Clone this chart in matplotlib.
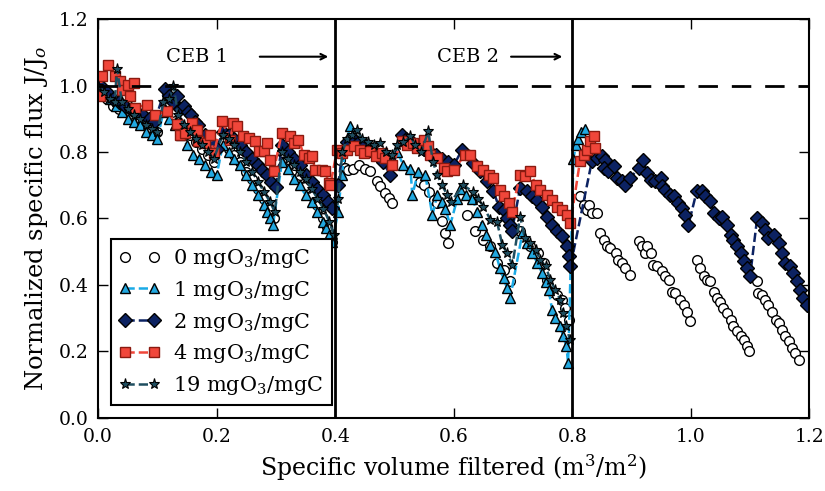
import numpy as np
import matplotlib
matplotlib.use("Agg")
import matplotlib.pyplot as plt

plt.rcParams['font.family'] = 'DejaVu Serif'
plt.rcParams['mathtext.fontset'] = 'dejavuserif'

# 0 mgO3/mgC (open circles)
x0 = [0.005, 0.015, 0.025, 0.035, 0.045, 0.055, 0.07, 0.085, 0.1,
      0.115, 0.125, 0.135, 0.145, 0.155, 0.165, 0.175, 0.185, 0.195,
      0.21, 0.22, 0.23, 0.24, 0.25, 0.26, 0.27, 0.28, 0.29, 0.296,
      0.31, 0.32, 0.33, 0.34, 0.35, 0.36, 0.37, 0.38, 0.386, 0.395,
      0.408, 0.417, 0.422, 0.43, 0.44, 0.45, 0.459, 0.47, 0.476, 0.484, 0.49, 0.496,
      0.543, 0.55, 0.558, 0.566, 0.572, 0.58, 0.586, 0.591,
      0.622, 0.636, 0.65, 0.662, 0.673, 0.684, 0.695,
      0.712, 0.729, 0.743, 0.752, 0.757, 0.766, 0.774, 0.783, 0.788, 0.794,
      0.813, 0.819, 0.825, 0.828, 0.833, 0.842,
      0.847, 0.853, 0.859, 0.864, 0.873, 0.878, 0.884, 0.889, 0.898,
      0.912, 0.918, 0.923, 0.926, 0.932, 0.937, 0.943, 0.951, 0.957, 0.963,
      0.968, 0.974, 0.982, 0.988, 0.994, 0.999,
      1.010, 1.016, 1.022, 1.027, 1.033, 1.039, 1.044, 1.050, 1.055, 1.061,
      1.067, 1.072, 1.078, 1.084, 1.089, 1.095, 1.098,
      1.112, 1.114, 1.120, 1.126, 1.131, 1.137, 1.143, 1.148, 1.154, 1.159,
      1.165, 1.171, 1.176, 1.182]
y0 = [0.99, 0.96, 0.94, 0.93, 0.92, 0.91, 0.89, 0.87, 0.86,
      0.95, 0.92, 0.89, 0.87, 0.85, 0.83, 0.81, 0.79, 0.77,
      0.83, 0.81, 0.79, 0.77, 0.74, 0.72, 0.69, 0.66, 0.63, 0.60,
      0.80, 0.78, 0.76, 0.73, 0.70, 0.67, 0.64, 0.60, 0.575, 0.53,
      0.777, 0.752, 0.747, 0.75, 0.76, 0.75, 0.742, 0.712, 0.697, 0.677, 0.662, 0.647,
      0.711, 0.70, 0.68, 0.657, 0.647, 0.591, 0.556, 0.526,
      0.611, 0.561, 0.536, 0.516, 0.466, 0.446, 0.411,
      0.561, 0.516, 0.496, 0.466, 0.416, 0.380, 0.370, 0.355, 0.330, 0.295,
      0.667, 0.642, 0.627, 0.642, 0.617, 0.617,
      0.556, 0.536, 0.516, 0.511, 0.496, 0.476, 0.466, 0.451, 0.431,
      0.531, 0.516, 0.496, 0.516, 0.496, 0.461, 0.456, 0.441, 0.426, 0.416,
      0.380, 0.375, 0.355, 0.340, 0.320, 0.290,
      0.476, 0.451, 0.426, 0.416, 0.411, 0.380, 0.361, 0.350, 0.330, 0.315,
      0.295, 0.275, 0.260, 0.245, 0.235, 0.215, 0.200,
      0.411, 0.375, 0.370, 0.355, 0.340, 0.320, 0.295, 0.285, 0.265, 0.245,
      0.230, 0.210, 0.195, 0.175]

# 1 mgO3/mgC (triangles)
x1 = [0.0, 0.01, 0.02, 0.03, 0.04, 0.05, 0.06, 0.07, 0.08, 0.09, 0.10,
      0.11, 0.12, 0.13, 0.14, 0.15, 0.16, 0.17, 0.18, 0.19, 0.2,
      0.21, 0.22, 0.23, 0.24, 0.25, 0.26, 0.27, 0.28, 0.285, 0.29, 0.295,
      0.31, 0.32, 0.33, 0.34, 0.35, 0.36, 0.37, 0.38, 0.385, 0.39, 0.395,
      0.405, 0.411, 0.418, 0.425, 0.435, 0.445, 0.455, 0.465, 0.475, 0.485, 0.495,
      0.505, 0.515, 0.527, 0.53, 0.54, 0.552, 0.564, 0.572, 0.58, 0.586, 0.594,
      0.606, 0.611, 0.62, 0.631, 0.64, 0.648, 0.655, 0.662, 0.67, 0.678, 0.684, 0.69, 0.695,
      0.716, 0.724, 0.732, 0.741, 0.749, 0.755, 0.76, 0.766, 0.771, 0.779, 0.785, 0.79, 0.793,
      0.802, 0.806, 0.81, 0.815, 0.822]
y1 = [1.00, 0.98, 0.96, 0.94, 0.92, 0.90, 0.89, 0.88, 0.86, 0.85, 0.84,
      0.92, 0.90, 0.88, 0.85, 0.82, 0.79, 0.78, 0.76, 0.74, 0.73,
      0.82, 0.80, 0.78, 0.76, 0.73, 0.70, 0.67, 0.64, 0.62, 0.60, 0.58,
      0.77, 0.75, 0.72, 0.70, 0.67, 0.65, 0.62, 0.59, 0.57, 0.55, 0.53,
      0.62, 0.73, 0.82, 0.877, 0.84, 0.83, 0.82, 0.80, 0.79, 0.78, 0.77,
      0.80, 0.76, 0.75, 0.67, 0.74, 0.73, 0.61, 0.67, 0.65, 0.63, 0.58,
      0.66, 0.69, 0.67, 0.66, 0.62, 0.58, 0.55, 0.52, 0.50, 0.45, 0.42, 0.39, 0.36,
      0.557, 0.527, 0.497, 0.467, 0.436, 0.41, 0.386, 0.325, 0.30, 0.276, 0.245, 0.215, 0.165,
      0.78, 0.82, 0.84, 0.86, 0.87]

# 2 mgO3/mgC (diamonds)
x2 = [0.005, 0.015, 0.025, 0.035, 0.045, 0.055, 0.065, 0.075, 0.085, 0.095,
      0.113, 0.12, 0.127, 0.133, 0.138, 0.145, 0.152, 0.157, 0.163, 0.169, 0.18, 0.19, 0.2,
      0.21, 0.22, 0.23, 0.24, 0.25, 0.26, 0.27, 0.277, 0.285, 0.292, 0.3,
      0.31, 0.32, 0.33, 0.34, 0.35, 0.36, 0.37, 0.38, 0.388, 0.395,
      0.405, 0.412, 0.42, 0.43, 0.44, 0.45, 0.46, 0.47, 0.48, 0.493,
      0.513, 0.52, 0.53, 0.54, 0.55, 0.56, 0.57, 0.58, 0.59, 0.6,
      0.614, 0.633, 0.645, 0.656, 0.667, 0.676, 0.684, 0.690, 0.695, 0.698,
      0.712, 0.724, 0.732, 0.740, 0.749, 0.757, 0.766, 0.774, 0.783, 0.791, 0.794, 0.797,
      0.833, 0.842, 0.850, 0.856, 0.853, 0.861, 0.870, 0.875, 0.884, 0.889, 0.898,
      0.912, 0.920, 0.926, 0.932, 0.940, 0.949, 0.951, 0.957, 0.965, 0.971, 0.979, 0.985, 0.991, 0.996,
      1.010, 1.019, 1.024, 1.033, 1.039, 1.047, 1.053, 1.061, 1.067, 1.072, 1.078, 1.084, 1.089, 1.095, 1.100,
      1.112, 1.120, 1.126, 1.131, 1.140, 1.148, 1.154, 1.159, 1.168, 1.173, 1.179, 1.185, 1.190, 1.196]
y2 = [1.0, 0.98, 0.96, 0.95, 0.94, 0.93, 0.92, 0.91, 0.90, 0.89,
      0.99, 0.97, 0.95, 0.97, 0.93, 0.94, 0.92, 0.91, 0.89, 0.88, 0.85, 0.83, 0.81,
      0.86, 0.85, 0.84, 0.82, 0.80, 0.78, 0.76, 0.747, 0.73, 0.71, 0.695,
      0.82, 0.80, 0.78, 0.76, 0.73, 0.71, 0.69, 0.67, 0.65, 0.632,
      0.70, 0.80, 0.83, 0.84, 0.83, 0.82, 0.81, 0.79, 0.77, 0.732,
      0.852, 0.84, 0.83, 0.82, 0.81, 0.80, 0.79, 0.78, 0.77, 0.76,
      0.807, 0.767, 0.742, 0.712, 0.682, 0.636, 0.627, 0.601, 0.581, 0.561,
      0.692, 0.682, 0.667, 0.657, 0.636, 0.606, 0.581, 0.561, 0.546, 0.516, 0.486, 0.456,
      0.772, 0.782, 0.787, 0.777, 0.752, 0.742, 0.757, 0.722, 0.712, 0.702, 0.722,
      0.752, 0.777, 0.737, 0.717, 0.712, 0.722, 0.697, 0.687, 0.672, 0.667, 0.647, 0.632, 0.611, 0.581,
      0.682, 0.682, 0.667, 0.652, 0.617, 0.601, 0.606, 0.581, 0.551, 0.536, 0.516, 0.496, 0.471, 0.451, 0.426,
      0.601, 0.586, 0.566, 0.541, 0.551, 0.526, 0.496, 0.466, 0.456, 0.436, 0.411, 0.386, 0.361, 0.340]

# 4 mgO3/mgC (squares)
x4 = [0.003, 0.006, 0.017, 0.029, 0.037, 0.040, 0.051, 0.054, 0.060, 0.062, 0.082, 0.096,
      0.116, 0.133, 0.138, 0.147, 0.158, 0.167, 0.169, 0.181, 0.189, 0.195,
      0.209, 0.223, 0.228, 0.234, 0.245, 0.254, 0.265, 0.271, 0.279, 0.285, 0.290, 0.296,
      0.310, 0.324, 0.330, 0.338, 0.347, 0.355, 0.361, 0.366, 0.378, 0.383, 0.389, 0.392,
      0.403, 0.411, 0.420, 0.431, 0.442, 0.448, 0.459, 0.468, 0.479, 0.484, 0.496,
      0.513, 0.521, 0.532, 0.538, 0.549, 0.557, 0.560, 0.572, 0.583, 0.588, 0.600,
      0.619, 0.628, 0.639, 0.650, 0.659, 0.667, 0.678, 0.684, 0.693, 0.698,
      0.712, 0.721, 0.729, 0.738, 0.746, 0.757, 0.766, 0.774, 0.783, 0.791, 0.797,
      0.813, 0.819, 0.825, 0.830, 0.836, 0.839]
y4 = [0.968, 1.028, 1.063, 1.028, 1.013, 0.988, 1.003, 0.968, 1.008, 0.933, 0.943, 0.913,
      0.923, 0.883, 0.852, 0.858, 0.888, 0.867, 0.832, 0.827, 0.852, 0.797,
      0.893, 0.837, 0.888, 0.878, 0.847, 0.842, 0.832, 0.802, 0.802, 0.827, 0.777, 0.742,
      0.858, 0.847, 0.827, 0.837, 0.792, 0.782, 0.787, 0.747, 0.747, 0.742, 0.707, 0.702,
      0.807, 0.797, 0.807, 0.817, 0.807, 0.797, 0.802, 0.787, 0.797, 0.782, 0.762,
      0.832, 0.822, 0.827, 0.812, 0.837, 0.817, 0.792, 0.782, 0.752, 0.742, 0.747,
      0.792, 0.792, 0.757, 0.747, 0.732, 0.722, 0.687, 0.667, 0.647, 0.621,
      0.732, 0.727, 0.742, 0.702, 0.687, 0.672, 0.657, 0.636, 0.627, 0.611, 0.586,
      0.772, 0.792, 0.807, 0.832, 0.847, 0.812]

# 19 mgO3/mgC (stars)
x19 = [0.0, 0.01, 0.02, 0.028, 0.032, 0.04, 0.05, 0.06, 0.07, 0.08, 0.09, 0.1,
       0.11, 0.12, 0.127, 0.135, 0.145, 0.155, 0.165, 0.175, 0.185, 0.195,
       0.21, 0.22, 0.23, 0.24, 0.25, 0.26, 0.27, 0.28, 0.29, 0.298,
       0.31, 0.32, 0.33, 0.34, 0.35, 0.36, 0.37, 0.38, 0.39, 0.398,
       0.405, 0.412, 0.42, 0.428, 0.437, 0.445, 0.455, 0.465, 0.476, 0.485, 0.495,
       0.505, 0.515, 0.527, 0.535, 0.545, 0.557, 0.565, 0.572, 0.58, 0.589, 0.595,
       0.616, 0.633, 0.641, 0.65, 0.662, 0.673, 0.682, 0.69, 0.699,
       0.712, 0.72, 0.729, 0.738, 0.746, 0.755, 0.763, 0.771, 0.78, 0.785, 0.79, 0.796]
y19 = [1.0, 0.98, 0.96, 0.95, 1.05, 0.95, 0.93, 0.91, 0.90, 0.88, 0.87, 0.86,
       0.95, 0.96, 1.0, 0.91, 0.88, 0.86, 0.84, 0.82, 0.80, 0.78,
       0.85, 0.84, 0.82, 0.80, 0.77, 0.74, 0.71, 0.68, 0.65, 0.62,
       0.80, 0.78, 0.76, 0.74, 0.72, 0.69, 0.66, 0.63, 0.59, 0.55,
       0.66, 0.80, 0.84, 0.85, 0.867, 0.84, 0.83, 0.82, 0.828, 0.80, 0.79,
       0.82, 0.83, 0.847, 0.82, 0.80, 0.862, 0.77, 0.732, 0.70, 0.672, 0.65,
       0.70, 0.68, 0.66, 0.636, 0.596, 0.59, 0.52, 0.497, 0.46,
       0.606, 0.54, 0.526, 0.506, 0.476, 0.456, 0.416, 0.386, 0.356, 0.316, 0.275, 0.235]

labels = ['0 mgO$_3$/mgC', '1 mgO$_3$/mgC', '2 mgO$_3$/mgC', '4 mgO$_3$/mgC', '19 mgO$_3$/mgC']

fig = plt.figure(figsize=(8.25, 4.91), dpi=100)
ax = fig.add_axes([0.119, 0.149, 0.862, 0.812])

ax.plot(x0, y0, 'o', ls='none', mfc='white', mec='black', ms=7, mew=1, label=labels[0])
ax.plot(x1, y1, '^', ls='--', color='#1aaae6', mfc='#22a8e0', mec='black', ms=7, mew=1, lw=1.8, label=labels[1])
ax.plot(x2, y2, 'D', ls='--', color='#0c2262', mfc='#0c2262', mec='black', ms=7, mew=1, lw=1.8, label=labels[2])
ax.plot(x4, y4, 's', ls='--', color='#f0463a', mfc='#f0463a', mec='#8a1a10', ms=7, mew=1, lw=1.8, label=labels[3])
ax.plot(x19, y19, '*', ls='--', color='#1f4e60', mfc='#1f4e60', mec='black', ms=8, mew=0.8, lw=1.8, label=labels[4])

ax.axhline(1.0, color='black', ls='--', lw=2, dashes=(7, 5))
ax.axvline(0.4, color='black', lw=2)
ax.axvline(0.8, color='black', lw=2)

ax.text(0.167, 1.087, 'CEB 1', ha='center', va='center', fontsize=14)
ax.annotate('', xy=(0.393, 1.087), xytext=(0.268, 1.087),
            arrowprops=dict(arrowstyle='->', lw=1.5, color='black'))
ax.text(0.624, 1.087, 'CEB 2', ha='center', va='center', fontsize=14)
ax.annotate('', xy=(0.788, 1.087), xytext=(0.692, 1.087),
            arrowprops=dict(arrowstyle='->', lw=1.5, color='black'))

ax.set_xlim(0, 1.2)
ax.set_ylim(0, 1.2)
ax.set_xticks(np.arange(0, 1.21, 0.2))
ax.set_yticks(np.arange(0, 1.21, 0.2))
ax.tick_params(direction='in', top=True, right=True, length=7, width=1, labelsize=13.5, pad=7)
for s in ax.spines.values():
    s.set_linewidth(1.5)

ax.set_xlabel('Specific volume filtered (m$^3$/m$^2$)', fontsize=17, labelpad=5)
ax.set_ylabel('Normalized specific flux J/J$_o$', fontsize=17.5, labelpad=6)

leg = ax.legend(loc='lower left', numpoints=2, fontsize=15, fancybox=False, framealpha=1,
                edgecolor='black', borderaxespad=0.6, handlelength=2.0, labelspacing=0.42,
                borderpad=0.4, handletextpad=0.6)
leg.get_frame().set_linewidth(1.5)

fig.savefig('out.png', dpi=100)
